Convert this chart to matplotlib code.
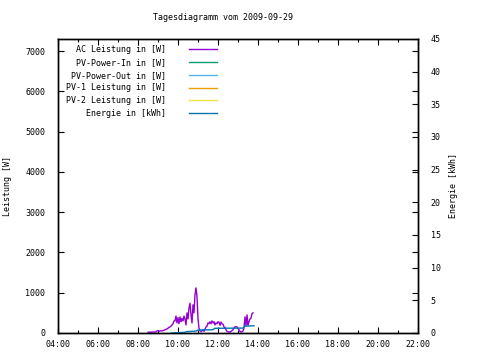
import matplotlib
matplotlib.use('Agg')
import matplotlib.pyplot as plt
import numpy as np

plt.rcParams['font.family'] = ['DejaVu Sans Mono']
plt.rcParams['font.size'] = 6

title = 'Tagesdiagramm vom 2009-09-29'

# AC Leistung, one sample every 3 minutes starting 08:30
ac_start = '08:30'
ac_step_min = 3
ac_power = [20, 20, 20, 20, 25, 25, 20, 25, 30,
            50, 60, 40, 50, 60, 50, 60, 70,
            80, 90, 100, 120, 140,
            150, 170, 200, 230, 300,
            300, 420, 250, 380, 230, 400, 280, 360, 300, 420,
            350, 200, 500, 350, 620, 740, 450, 250, 700, 500,
            950, 1120, 900, 350, 120, 50, 40, 50, 80, 40,
            100, 150, 170, 250, 230, 280, 230, 300, 250, 280,
            200, 250, 230, 280, 270, 190, 270, 230, 220, 150,
            140, 80, 40, 30, 25, 25, 40, 60, 80, 130,
            150, 160, 150, 110, 80, 40, 25, 30, 50, 120,
            400, 180, 450, 200, 280, 350, 370, 480, 500]

# Energie (cumulative kWh)
energy_times = ['09:40', '10:20', '10:25', '10:55', '11:00', '11:45', '11:50',
                '13:15', '13:20', '13:45', '13:48']
energy_kwh = [0.0, 0.1, 0.2, 0.3, 0.45, 0.5, 0.72, 0.75, 1.05, 1.1, 1.1]

# series without data on this day
pv_power_in = []
pv_power_out = []
pv1_power = []
pv2_power = []


def to_hours(s):
    h, m = s.split(':')
    return int(h) + int(m) / 60.0


t0 = to_hours(ac_start)
ac_times = [t0 + i * ac_step_min / 60.0 for i in range(len(ac_power))]
e_times = [to_hours(s) for s in energy_times]

fig = plt.figure(figsize=(4.8, 3.6), dpi=100)
ax = fig.add_axes([58 / 480, 1 - 333 / 360, 360 / 480, 294 / 360])
ax2 = ax.twinx()

l1, = ax.plot(ac_times, ac_power, color='#9400d3', lw=1.0, label='AC Leistung in [W]')
l2, = ax.plot(pv_power_in, pv_power_in, color='#009e73', lw=1.0, label='PV-Power-In in [W]')
l3, = ax.plot(pv_power_out, pv_power_out, color='#56b4e9', lw=1.0, label='PV-Power-Out in [W]')
l4, = ax.plot(pv1_power, pv1_power, color='#e69f00', lw=1.0, label='PV-1 Leistung in [W]')
l5, = ax.plot(pv2_power, pv2_power, color='#f0e442', lw=1.0, label='PV-2 Leistung in [W]')
l6, = ax2.plot(e_times, energy_kwh, color='#0072b2', lw=1.0, label='Energie in [kWh]')

ax.set_xlim(4, 22)
ax.set_ylim(0, 7300)
ax2.set_ylim(0, 45)

ax.set_xticks(np.arange(4, 23, 2))
ax.set_xticklabels(['%02d:00' % h for h in range(4, 23, 2)])
ax.set_xticks(np.arange(5, 22, 2), minor=True)
ax.set_yticks(np.arange(0, 7001, 1000))
ax2.set_yticks(np.arange(0, 46, 5))

ax.tick_params(axis='x', which='both', direction='in', top=True, pad=5)
ax.tick_params(axis='x', which='major', length=4, width=0.8)
ax.tick_params(axis='x', which='minor', length=2.5, width=0.8)
ax.tick_params(axis='y', direction='in', right=True, length=4, width=0.8, pad=9)
ax2.tick_params(axis='y', direction='in', length=4, width=0.8, pad=9)

for a in (ax, ax2):
    for s in a.spines.values():
        s.set_linewidth(1.0)

ax.set_ylabel('Leistung [W]')
ax2.set_ylabel('Energie [kWh]')
ax.yaxis.set_label_coords(-46 / 360, 0.5)
ax2.yaxis.set_label_coords(1 + 31 / 360, 0.5)

fig.text(223 / 480, 1 - 18 / 360, title, ha='center', va='center')

lines = [l1, l2, l3, l4, l5, l6]
ax.legend(lines, [l.get_label() for l in lines], loc='upper left',
          bbox_to_anchor=(4 / 360, 1 - 2 / 294), frameon=False, markerfirst=False,
          handlelength=3.4, handletextpad=2.7, labelspacing=0.45,
          borderaxespad=0, borderpad=0.5)

fig.savefig('out.png', dpi=100)
